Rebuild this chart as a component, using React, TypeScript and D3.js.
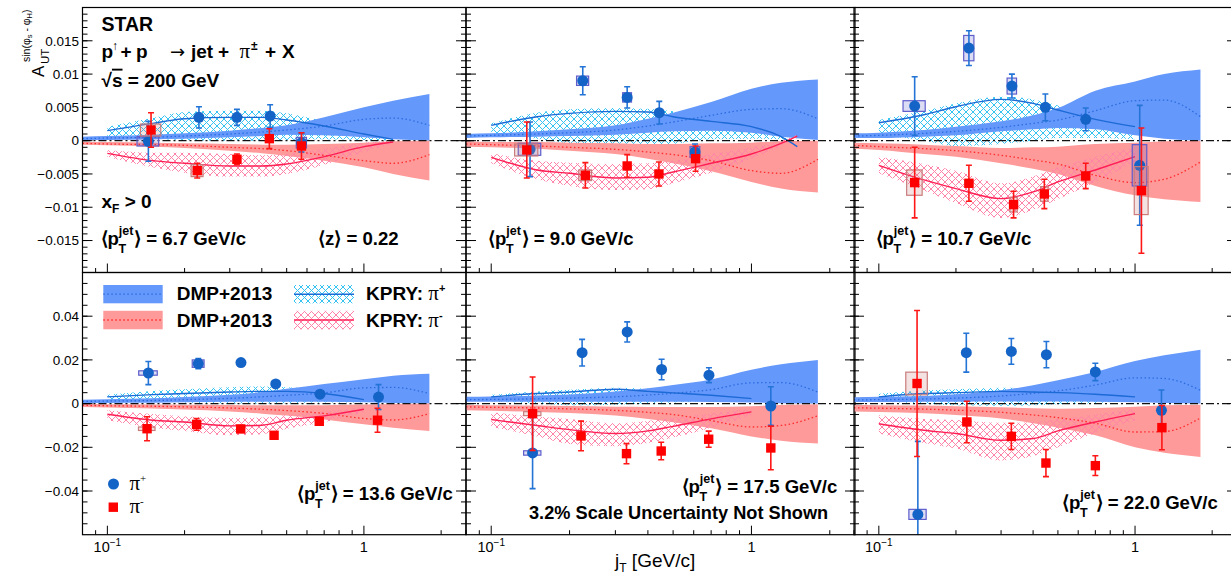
import React from 'react';
import * as d3 from 'd3';

// ---------------- DATA ----------------
const ptJet = ['6.7', '9.0', '10.7', '13.6', '17.5', '22.0'];

// DMP+2013 bands (common jT grid)
const dmpX = [0.08, 0.1, 0.15, 0.2, 0.3, 0.4, 0.5, 0.7, 1.0, 1.3, 1.8];
const dmpPlusHi = [
  [0.0006, 0.0007, 0.0009, 0.0011, 0.0015, 0.0019, 0.0023, 0.0035, 0.0050, 0.0060, 0.0070],
  [0.0010, 0.0011, 0.0014, 0.0017, 0.0023, 0.0033, 0.0042, 0.0058, 0.0078, 0.0087, 0.0092],
  [0.0011, 0.0012, 0.0016, 0.0021, 0.0029, 0.0038, 0.0049, 0.0075, 0.0089, 0.0100, 0.0107],
  [0.0018, 0.0020, 0.0024, 0.0030, 0.0040, 0.0053, 0.0068, 0.0090, 0.0112, 0.0128, 0.0137],
  [0.0031, 0.0032, 0.0037, 0.0042, 0.0055, 0.0070, 0.0085, 0.0110, 0.0155, 0.0180, 0.0200],
  [0.0029, 0.0031, 0.0035, 0.0043, 0.0061, 0.0084, 0.0107, 0.0145, 0.0195, 0.0221, 0.0247],
];
const dmpPlusLo = [
  [0.0001, 0.0001, 0.0002, 0.0003, 0.0005, 0.0007, 0.0009, 0.0008, 0.0005, 0.0002, 0.0],
  [0.0004, 0.0005, 0.0006, 0.0007, 0.0009, 0.0012, 0.0014, 0.0015, 0.0012, 0.0006, 0.0001],
  [0.0004, 0.0004, 0.0006, 0.0008, 0.0014, 0.0017, 0.0019, 0.0017, 0.0008, 0.0003, 0.0],
  [0.0002, 0.0003, 0.0004, 0.0006, 0.0008, 0.0008, 0.0008, 0.0008, 0.0006, 0.0003, 0.0],
  [0.0008, 0.0008, 0.0008, 0.0008, 0.0008, 0.0008, 0.0008, 0.0007, 0.0005, 0.0002, 0.0],
  [0.0007, 0.0007, 0.0008, 0.0009, 0.0010, 0.0010, 0.0010, 0.0009, 0.0006, 0.0003, 0.0],
];
const dmpPlusMid = [
  [0.0003, 0.0004, 0.0005, 0.0007, 0.0010, 0.0013, 0.0016, 0.0022, 0.0032, 0.0034, 0.0023],
  [0.0007, 0.0008, 0.0010, 0.0012, 0.0016, 0.0022, 0.0028, 0.0038, 0.0047, 0.0048, 0.0033],
  [0.0007, 0.0008, 0.0011, 0.0014, 0.0020, 0.0026, 0.0031, 0.0045, 0.0060, 0.0061, 0.0036],
  [0.0010, 0.0012, 0.0014, 0.0018, 0.0024, 0.0031, 0.0038, 0.0049, 0.0072, 0.0074, 0.0046],
  [0.0018, 0.0019, 0.0022, 0.0025, 0.0031, 0.0039, 0.0047, 0.0064, 0.0095, 0.0096, 0.0053],
  [0.0017, 0.0018, 0.0021, 0.0025, 0.0035, 0.0047, 0.0058, 0.0085, 0.0118, 0.0115, 0.0061],
];
const dmpMinusHi = [
  [-0.0002, -0.0002, -0.0003, -0.0004, -0.0005, -0.0006, -0.0006, -0.0005, -0.0003, -0.0001, 0],
  [-0.0001, -0.0002, -0.0002, -0.0003, -0.0004, -0.0005, -0.0005, -0.0004, -0.0003, -0.0001, 0],
  [-0.0003, -0.0004, -0.0006, -0.0008, -0.0011, -0.0010, -0.0009, -0.0005, -0.0003, -0.0001, 0],
  [-0.0002, -0.0003, -0.0004, -0.0005, -0.0006, -0.0008, -0.0008, -0.0007, -0.0004, -0.0002, 0],
  [-0.0006, -0.0007, -0.0009, -0.0011, -0.0014, -0.0015, -0.0016, -0.0015, -0.0012, -0.0006, -0.0003],
  [-0.0006, -0.0007, -0.0009, -0.0012, -0.0017, -0.0021, -0.0023, -0.0020, -0.0014, -0.0008, -0.0005],
];
const dmpMinusLo = [
  [-0.0006, -0.0007, -0.0009, -0.0011, -0.0015, -0.0019, -0.0023, -0.0030, -0.0040, -0.0050, -0.0060],
  [-0.0009, -0.0010, -0.0012, -0.0015, -0.0020, -0.0027, -0.0034, -0.0046, -0.0062, -0.0072, -0.0078],
  [-0.0012, -0.0014, -0.0020, -0.0024, -0.0034, -0.0042, -0.0050, -0.0068, -0.0082, -0.0088, -0.0092],
  [-0.0015, -0.0018, -0.0022, -0.0027, -0.0036, -0.0046, -0.0055, -0.0073, -0.0095, -0.0110, -0.0125],
  [-0.0031, -0.0033, -0.0038, -0.0043, -0.0055, -0.0070, -0.0085, -0.0113, -0.0150, -0.0170, -0.0183],
  [-0.0036, -0.0038, -0.0044, -0.0052, -0.0068, -0.0090, -0.0110, -0.0145, -0.0200, -0.0225, -0.0244],
];
const dmpMinusMid = [
  [-0.0004, -0.0005, -0.0006, -0.0007, -0.0010, -0.0012, -0.0015, -0.0022, -0.0030, -0.0034, -0.0021],
  [-0.0005, -0.0006, -0.0008, -0.0010, -0.0013, -0.0017, -0.0021, -0.0030, -0.0045, -0.0049, -0.0028],
  [-0.0007, -0.0009, -0.0012, -0.0015, -0.0022, -0.0029, -0.0035, -0.0052, -0.0063, -0.0058, -0.0032],
  [-0.0008, -0.0010, -0.0012, -0.0015, -0.0020, -0.0026, -0.0032, -0.0045, -0.0068, -0.0075, -0.0046],
  [-0.0015, -0.0017, -0.0020, -0.0024, -0.0031, -0.0040, -0.0050, -0.0078, -0.0107, -0.0100, -0.0056],
  [-0.0019, -0.0021, -0.0025, -0.0030, -0.0040, -0.0052, -0.0064, -0.0090, -0.0130, -0.0128, -0.0066],
];

// KPRY bands
const kpryX = [
  [0.1, 0.15, 0.2, 0.3, 0.4, 0.5, 0.7, 1.0, 1.3],
  [0.1, 0.15, 0.2, 0.3, 0.4, 0.5, 0.7, 1.0, 1.3, 1.5],
  [0.1, 0.15, 0.2, 0.3, 0.4, 0.5, 0.7, 1.0],
  [0.1, 0.15, 0.2, 0.3, 0.4, 0.5, 0.7, 1.0],
  [0.1, 0.15, 0.2, 0.3, 0.4, 0.5, 0.7, 1.0],
  [0.1, 0.15, 0.2, 0.3, 0.4, 0.5, 0.7, 1.0],
];
const kpryPlusMid = [
  [0.0015, 0.0026, 0.0033, 0.0035, 0.0035, 0.0031, 0.0022, 0.0010, 0.0002],
  [0.0023, 0.0036, 0.0041, 0.0044, 0.0043, 0.0036, 0.0029, 0.0021, 0.0006, -0.0009],
  [0.0027, 0.0039, 0.0051, 0.0062, 0.0056, 0.0046, 0.0032, 0.0021],
  [0.0031, 0.0041, 0.0046, 0.0053, 0.0056, 0.0056, 0.0046, 0.0018],
  [0.0031, 0.0046, 0.0053, 0.0066, 0.0056, 0.0049, 0.0038, 0.0023],
  [0.0031, 0.0046, 0.0050, 0.0056, 0.0053, 0.0050, 0.0043, 0.0031],
];
const kpryPlusHi = [
  [0.0021, 0.0034, 0.0043, 0.0045, 0.0045, 0.0041, 0.0029, 0.0015, 0.0005],
  [0.0026, 0.0042, 0.0047, 0.0049, 0.0048, 0.0044, 0.0035, 0.0024, 0.0008, -0.0006],
  [0.0031, 0.0045, 0.0056, 0.0066, 0.0062, 0.0053, 0.0038, 0.0024],
  [0.0040, 0.0058, 0.0066, 0.0075, 0.0078, 0.0075, 0.0063, 0.0028],
  [0.0040, 0.0055, 0.0063, 0.0073, 0.0068, 0.0060, 0.0048, 0.0030],
  [0.0045, 0.0060, 0.0066, 0.0072, 0.0070, 0.0066, 0.0058, 0.0040],
];
const kpryPlusLo = [
  [0.0005, 0.0003, 0.0001, 0.0000, 0.0000, 0.0001, 0.0002, 0.0001, 0.0],
  [0.0010, 0.0003, -0.0004, -0.0008, -0.0008, -0.0005, 0.0002, 0.0003, 0.0002, -0.0010],
  [0.0008, 0.0000, -0.0008, -0.0005, 0.0000, 0.0004, 0.0004, 0.0002],
  [0.0012, 0.0010, 0.0005, 0.0000, 0.0000, 0.0002, 0.0005, 0.0005],
  [0.0010, 0.0000, -0.0008, -0.0005, 0.0000, 0.0005, 0.0010, 0.0010],
  [0.0008, 0.0000, -0.0008, -0.0010, -0.0008, -0.0003, 0.0002, 0.0015],
];
const kpryMinusMid = [
  [-0.0019, -0.0030, -0.0034, -0.0038, -0.0038, -0.0035, -0.0024, -0.0009, -0.0002],
  [-0.0025, -0.0044, -0.0049, -0.0056, -0.0055, -0.0047, -0.0034, -0.0020, -0.0004, 0.0007],
  [-0.0037, -0.0059, -0.0072, -0.0087, -0.0077, -0.0062, -0.0044, -0.0024],
  [-0.0049, -0.0076, -0.0084, -0.0102, -0.0099, -0.0076, -0.0056, -0.0026],
  [-0.0073, -0.0100, -0.0119, -0.0137, -0.0125, -0.0104, -0.0070, -0.0038],
  [-0.0092, -0.0122, -0.0137, -0.0168, -0.0160, -0.0125, -0.0084, -0.0046],
];
const kpryMinusHi = [
  [-0.0014, -0.0018, -0.0018, -0.0020, -0.0022, -0.0020, -0.0012, -0.0003, 0.0],
  [-0.0019, -0.0030, -0.0033, -0.0035, -0.0034, -0.0030, -0.0020, -0.0010, 0.0000, 0.0009],
  [-0.0024, -0.0035, -0.0045, -0.0064, -0.0054, -0.0040, -0.0024, -0.0010],
  [-0.0030, -0.0048, -0.0058, -0.0066, -0.0064, -0.0052, -0.0036, -0.0015],
  [-0.0040, -0.0060, -0.0070, -0.0090, -0.0080, -0.0065, -0.0045, -0.0022],
  [-0.0053, -0.0070, -0.0075, -0.0088, -0.0085, -0.0072, -0.0050, -0.0023],
];
const kpryMinusLo = [
  [-0.0024, -0.0040, -0.0048, -0.0054, -0.0054, -0.0050, -0.0036, -0.0017, -0.0004],
  [-0.0034, -0.0058, -0.0068, -0.0074, -0.0073, -0.0064, -0.0048, -0.0027, -0.0008, 0.0004],
  [-0.0049, -0.0075, -0.0094, -0.0116, -0.0104, -0.0088, -0.0062, -0.0032],
  [-0.0076, -0.0110, -0.0125, -0.0145, -0.0140, -0.0115, -0.0085, -0.0040],
  [-0.0107, -0.0150, -0.0185, -0.0195, -0.0180, -0.0155, -0.0110, -0.0055],
  [-0.0137, -0.0180, -0.0205, -0.0260, -0.0240, -0.0200, -0.0135, -0.0076],
];

// Measured asymmetries
const piPlusX = [
  [0.1445, 0.2275, 0.320, 0.431, 0.571],
  [0.141, 0.2248, 0.333, 0.4424, 0.607],
  [0.138, 0.2247, 0.3307, 0.4467, 0.642, 1.043],
  [0.1445, 0.2262, 0.3317, 0.4532, 0.6745, 1.14],
  [0.1442, 0.2235, 0.333, 0.4516, 0.6866, 1.187],
  [0.142, 0.2195, 0.329, 0.4508, 0.700, 1.268],
];
const piPlusY = [
  [-0.0001, 0.0035, 0.0035, 0.0037, -0.0003],
  [-0.0013, 0.0090, 0.0065, 0.0042, -0.0017],
  [0.0052, 0.0139, 0.0082, 0.0050, 0.0032, -0.0037],
  [0.0140, 0.0183, 0.0188, 0.0090, 0.0043, 0.0030],
  [-0.0226, 0.0233, 0.0328, 0.0156, 0.0130, -0.0011],
  [-0.0507, 0.0233, 0.0239, 0.0224, 0.0145, -0.0031],
];
const piPlusStat = [
  [0.0030, 0.0016, 0.0012, 0.0017, 0.0014],
  [0.0041, 0.0021, 0.0016, 0.0017, 0.0012],
  [0.0044, 0.0026, 0.0018, 0.0020, 0.0017, 0.0090],
  [0.0053, 0.0023, 0.0015, 0.0012, 0.0012, 0.0057],
  [0.0163, 0.0061, 0.0046, 0.0047, 0.0034, 0.0088],
  [0.0334, 0.0089, 0.0059, 0.0060, 0.0040, 0.0093],
];
const piPlusSys = [
  [0.0007, 0.0003, 0.0003, 0.0003, 0.0008],
  [0.0009, 0.0007, 0.0007, 0.0003, 0.0008],
  [0.0008, 0.0019, 0.0012, 0.0003, 0.0003, 0.0031],
  [0.0010, 0.0017, 0.0008, 0.0008, 0.0006, 0.0006],
  [0.0010, 0.0010, 0.0008, 0.0010, 0.0008, 0.0006],
  [0.0023, 0.0010, 0.0010, 0.0010, 0.0010, 0.0008],
];
const piPlusSysX = [
  [0.014, 0.007, 0.009, 0.012, 0.026],
  [0.014, 0.012, 0.013, 0.012, 0.026],
  [0.0137, 0.0103, 0.014, 0.012, 0.017, 0.068],
  [0.012, 0.012, 0.009, 0.012, 0.018, 0.03],
  [0.011, 0.007, 0.009, 0.012, 0.018, 0.03],
  [0.011, 0.007, 0.009, 0.012, 0.018, 0.03],
];
const piMinusX = [
  [0.148, 0.224, 0.320, 0.428, 0.571],
  [0.137, 0.230, 0.333, 0.441, 0.610],
  [0.138, 0.2247, 0.3357, 0.4426, 0.642, 1.059],
  [0.1428, 0.2228, 0.3310, 0.4465, 0.6698, 1.13],
  [0.1442, 0.2214, 0.331, 0.450, 0.685, 1.187],
  [0.141, 0.2206, 0.329, 0.449, 0.700, 1.273],
];
const piMinusY = [
  [0.0016, -0.0045, -0.0028, 0.0003, -0.0008],
  [-0.0014, -0.0052, -0.0038, -0.0050, -0.0027],
  [-0.0063, -0.0064, -0.0096, -0.0080, -0.0053, -0.0075],
  [-0.0115, -0.0095, -0.0116, -0.0145, -0.0081, -0.0076],
  [-0.0046, -0.0148, -0.0229, -0.0217, -0.0163, -0.0203],
  [0.0092, -0.0084, -0.0150, -0.0272, -0.0284, -0.0110],
];
const piMinusStat = [
  [0.0026, 0.0011, 0.0008, 0.0015, 0.0020],
  [0.0042, 0.0019, 0.0017, 0.0018, 0.0019],
  [0.0053, 0.0027, 0.0020, 0.0022, 0.0019, 0.0094],
  [0.0055, 0.0027, 0.0015, 0.0015, 0.0012, 0.0055],
  [0.0168, 0.0068, 0.0046, 0.0040, 0.0037, 0.0100],
  [0.0334, 0.0095, 0.0060, 0.0062, 0.0045, 0.0101],
];
const piMinusSys = [
  [0.0009, 0.0009, 0.0003, 0.0003, 0.0005],
  [0.0009, 0.0008, 0.0003, 0.0003, 0.0003],
  [0.0019, 0.0004, 0.0011, 0.0011, 0.0003, 0.0036],
  [0.0008, 0.0015, 0.0010, 0.0015, 0.0008, 0.0008],
  [0.0009, 0.0010, 0.0008, 0.0008, 0.0008, 0.0008],
  [0.0052, 0.0010, 0.0010, 0.0010, 0.0010, 0.0010],
];
const piMinusSysX = [
  [0.0135, 0.012, 0.008, 0.011, 0.015],
  [0.014, 0.013, 0.009, 0.012, 0.016],
  [0.0096, 0.008, 0.011, 0.015, 0.017, 0.066],
  [0.0106, 0.008, 0.009, 0.012, 0.018, 0.03],
  [0.011, 0.008, 0.009, 0.012, 0.018, 0.03],
  [0.0136, 0.008, 0.009, 0.012, 0.018, 0.03],
];

// axes
const xDomain = [0.08, 2.5];
const xMajorTicks = [0.1, 1];
const xMinorTicks = [0.08, 0.09, 0.2, 0.3, 0.4, 0.5, 0.6, 0.7, 0.8, 0.9, 2];
const topYDomain = [-0.0198, 0.02];
const botYDomain = [-0.06, 0.06];
const topYMajor = [-0.015, -0.01, -0.005, 0, 0.005, 0.01, 0.015];
const botYMajor = [-0.04, -0.02, 0, 0.02, 0.04];

// ---------------- STYLE / LAYOUT ----------------
const FONT = "'Liberation Sans', Arial, Helvetica, sans-serif";
const SERIF = "'Liberation Serif', 'Times New Roman', serif";
const C = {
  bandB: '#6598fb',
  bandR: '#ff9a9a',
  dotB: '#2a6ce0',
  dotR: '#ff2a2a',
  hatchB: '#35c4f2',
  hatchR: '#ff84a8',
  lineB: '#1c6ad6',
  lineR: '#ff1f55',
  mkB: '#1463c6',
  errB: '#2374d6',
  mkR: '#ff0000',
  errR: '#ff1616',
  boxB: '#5d5dcc',
  boxR: '#c97c7c',
};
const LAYOUT = [
  { x0: 82.5, x1: 466, y0: 7.5, y1: 272.5 },
  { x0: 466, x1: 855, y0: 7.5, y1: 272.5 },
  { x0: 854, x1: 1237, y0: 7.5, y1: 272.5 },
  { x0: 82.5, x1: 466, y0: 272.5, y1: 534.7 },
  { x0: 466, x1: 855, y0: 272.5, y1: 534.7 },
  { x0: 854, x1: 1237, y0: 272.5, y1: 534.7 },
];

const fmtY = (v: number) => (v === 0 ? '0' : (v < 0 ? '\u2212' : '') + String(+Math.abs(v).toFixed(4)));

function Points({ x, y, xs, ys, es, ss, sx, blue }: any) {
  const mk = blue ? C.mkB : C.mkR;
  const er = blue ? C.errB : C.errR;
  return (
    <g>
      {xs.map((xv: number, k: number) => (
        <rect key={'b' + k}
          x={x(xv - sx[k])} width={x(xv + sx[k]) - x(xv - sx[k])}
          y={y(ys[k] + ss[k])} height={y(ys[k] - ss[k]) - y(ys[k] + ss[k])}
          fill={blue ? 'rgba(95,95,210,0.22)' : 'rgba(205,125,125,0.22)'}
          stroke={blue ? C.boxB : C.boxR} strokeWidth={1.2} />
      ))}
      {xs.map((xv: number, k: number) => {
        const cx = x(xv);
        const yt = y(ys[k] + es[k]);
        const yb = y(ys[k] - es[k]);
        return (
          <g key={'e' + k} stroke={er} strokeWidth={1.6}>
            <line x1={cx} x2={cx} y1={yt} y2={yb} />
            <line x1={cx - 3} x2={cx + 3} y1={yt} y2={yt} />
            <line x1={cx - 3} x2={cx + 3} y1={yb} y2={yb} />
          </g>
        );
      })}
      {xs.map((xv: number, k: number) =>
        blue ? (
          <circle key={'m' + k} cx={x(xv)} cy={y(ys[k])} r={5.5} fill={mk} />
        ) : (
          <rect key={'m' + k} x={x(xv) - 4.7} y={y(ys[k]) - 4.7} width={9.4} height={9.4} fill={mk} />
        )
      )}
    </g>
  );
}

function Panel({ i }: { i: number }) {
  const L = LAYOUT[i];
  const row = i < 3 ? 0 : 1;
  const x = d3.scaleLog().domain(xDomain).range([L.x0, L.x1]);
  const y = d3.scaleLinear().domain(row ? botYDomain : topYDomain).range([L.y1, L.y0]);
  const area = (xs: number[], lo: number[], hi: number[]) =>
    d3.area<number>()
      .x((d) => x(d))
      .y0((_, k) => y(lo[k]))
      .y1((_, k) => y(hi[k]))
      .curve(d3.curveMonotoneX)(xs) || '';
  const line = (xs: number[], ys: number[]) =>
    d3.line<number>()
      .x((d) => x(d))
      .y((_, k) => y(ys[k]))
      .curve(d3.curveMonotoneX)(xs) || '';

  const yMinor = row ? d3.range(-11, 12).map((k) => k * 0.005) : d3.range(-19, 20).map((k) => k * 0.001);
  const yMajor = row ? botYMajor : topYMajor;
  const kx = kpryX[i];

  return (
    <g>
      <g clipPath={`url(#clip${i})`}>
        <path d={area(kx, kpryPlusLo[i], kpryPlusHi[i])} fill="url(#hatchB)" />
        <path d={area(dmpX, dmpPlusLo[i], dmpPlusHi[i])} fill={C.bandB} />
        <path d={area(dmpX, dmpMinusLo[i], dmpMinusHi[i])} fill={C.bandR} />
        <path d={area(kx, kpryMinusLo[i], kpryMinusHi[i])} fill="url(#hatchR)" />
        <path d={line(dmpX, dmpPlusMid[i])} fill="none" stroke={C.dotB} strokeWidth={1.3} strokeDasharray="1.5,2.5" />
        <path d={line(dmpX, dmpMinusMid[i])} fill="none" stroke={C.dotR} strokeWidth={1.3} strokeDasharray="1.5,2.5" />
        <path d={line(kx, kpryPlusMid[i])} fill="none" stroke={C.lineB} strokeWidth={1.4} />
        <path d={line(kx, kpryMinusMid[i])} fill="none" stroke={C.lineR} strokeWidth={1.4} />
        <line x1={L.x0} x2={L.x1} y1={y(0)} y2={y(0)} stroke="#111" strokeWidth={1.2} strokeDasharray="8,3,2,3" />
        <Points x={x} y={y} xs={piPlusX[i]} ys={piPlusY[i]} es={piPlusStat[i]} ss={piPlusSys[i]} sx={piPlusSysX[i]} blue />
        <Points x={x} y={y} xs={piMinusX[i]} ys={piMinusY[i]} es={piMinusStat[i]} ss={piMinusSys[i]} sx={piMinusSysX[i]} />
      </g>
      <rect x={L.x0} y={L.y0} width={L.x1 - L.x0} height={L.y1 - L.y0} fill="none" stroke="#000" strokeWidth={1.2} />
      <g stroke="#000" strokeWidth={1}>
        {yMinor.map((v, k) => (
          <g key={'ym' + k}>
            <line x1={L.x0} x2={L.x0 + 5} y1={y(v)} y2={y(v)} />
            <line x1={L.x1} x2={L.x1 - 5} y1={y(v)} y2={y(v)} />
          </g>
        ))}
        {yMajor.map((v, k) => (
          <g key={'yM' + k}>
            <line x1={L.x0} x2={L.x0 + 10} y1={y(v)} y2={y(v)} />
            <line x1={L.x1} x2={L.x1 - 10} y1={y(v)} y2={y(v)} />
          </g>
        ))}
        {xMinorTicks.map((v, k) => (
          <line key={'xm' + k} x1={x(v)} x2={x(v)} y1={L.y1} y2={L.y1 - 4.5} />
        ))}
        {xMajorTicks.map((v, k) => (
          <line key={'xM' + k} x1={x(v)} x2={x(v)} y1={L.y1} y2={L.y1 - 9} />
        ))}
      </g>
      {(i === 0 || i === 3) &&
        yMajor.map((v, k) => (
          <text key={'yl' + k} x={79} y={y(v) + 4.8} fontSize={13.5} textAnchor="end" fill="#000">
            {fmtY(v)}
          </text>
        ))}
      {row === 1 && (
        <g fontSize={14.5} fill="#000">
          <text x={x(0.1)} y={551.5} textAnchor="middle">
            10<tspan dy={-6} fontSize={10}>{'\u22121'}</tspan>
          </text>
          <text x={x(1)} y={551.5} textAnchor="middle">1</text>
        </g>
      )}
    </g>
  );
}

function PtLabel({ x, y, val }: { x: number; y: number; val: string }) {
  return (
    <text x={x} y={y} fontSize={18.6} fontWeight="bold" fill="#000">
      <tspan>{'\u27E8p'}</tspan>
      <tspan dy={-10} fontSize={12.5}>jet</tspan>
      <tspan dx={-15} dy={18} fontSize={12.5}>T</tspan>
      <tspan dx={8} dy={-8}>{'\u27E9 = ' + val + ' GeV/c'}</tspan>
    </text>
  );
}

export default function App() {
  const ptPos = [
    [100.5, 245], [488, 245], [875.5, 245], [297, 500], [681.5, 492.5], [1062, 508.5],
  ];
  return (
    <svg width={1231} height={573} style={{ position: 'absolute', left: 0, top: 0, background: '#fff' }} fontFamily={FONT}>
      <defs>
        <pattern id="hatchB" width={7} height={7} patternUnits="userSpaceOnUse">
          <path d="M0,0L7,7M7,0L0,7" stroke={C.hatchB} strokeWidth={1} />
        </pattern>
        <pattern id="hatchR" width={7} height={7} patternUnits="userSpaceOnUse">
          <path d="M0,0L7,7M7,0L0,7" stroke={C.hatchR} strokeWidth={1} />
        </pattern>
        {LAYOUT.map((L, i) => (
          <clipPath id={'clip' + i} key={i}>
            <rect x={L.x0} y={L.y0} width={L.x1 - L.x0} height={L.y1 - L.y0} />
          </clipPath>
        ))}
      </defs>
      <rect x={0} y={0} width={1231} height={573} fill="#fff" />
      {LAYOUT.map((_, i) => <Panel key={i} i={i} />)}

      {/* annotations */}
      <g fontWeight="bold" fontSize={19} fill="#000" style={{ whiteSpace: 'pre' }}>
        <text x={101.5} y={30.5} fontSize={19.5}>STAR</text>
        <text y={58.3}>
          <tspan x={101.5}>p</tspan>
          <tspan x={112} dy={-8} fontSize={12}>{'\u2191'}</tspan>
          <tspan x={120.5} dy={8}>+</tspan>
          <tspan x={136}>p</tspan>
          <tspan x={170} fontFamily="'DejaVu Sans', sans-serif" fontWeight="normal" fontSize={18}>{'\u2192'}</tspan>
          <tspan x={191}>jet</tspan>
          <tspan x={218}>+</tspan>
          <tspan x={239.5} fontFamily={SERIF} fontWeight="normal" fontSize={21}>{'\u03C0'}</tspan>
          <tspan x={251} dy={-8} fontSize={12}>{'\u00B1'}</tspan>
          <tspan x={265} dy={8}>+</tspan>
          <tspan x={282}>X</tspan>
        </text>
        <text x={101.5} y={86.7}>
          {'\u221A'}<tspan style={{ textDecoration: 'overline' }}>s</tspan>{' = 200 GeV'}
        </text>
        <text x={101.5} y={208.3}>
          x<tspan dy={5} fontSize={12}>F</tspan><tspan dy={-5}>{' > 0'}</tspan>
        </text>
        <text x={318} y={245} fontSize={18.6}>{'\u27E8z\u27E9 = 0.22'}</text>
        <text x={529} y={519} fontSize={18.2}>3.2% Scale Uncertainty Not Shown</text>
      </g>
      {ptPos.map((p, i) => <PtLabel key={i} x={p[0]} y={p[1]} val={ptJet[i]} />)}

      {/* legend */}
      <g>
        <rect x={103.3} y={285} width={59.4} height={18.3} fill={C.bandB} />
        <line x1={103.3} x2={162.7} y1={294.2} y2={294.2} stroke={C.dotB} strokeWidth={1.3} strokeDasharray="1.5,2.5" />
        <rect x={103.3} y={310.8} width={59.4} height={18.5} fill={C.bandR} />
        <line x1={103.3} x2={162.7} y1={320} y2={320} stroke={C.dotR} strokeWidth={1.3} strokeDasharray="1.5,2.5" />
        <rect x={294} y={285} width={60} height={18.3} fill="url(#hatchB)" />
        <line x1={294} x2={354} y1={294.2} y2={294.2} stroke={C.lineB} strokeWidth={1.4} />
        <rect x={294} y={310.8} width={60} height={18.5} fill="url(#hatchR)" />
        <line x1={294} x2={354} y1={320} y2={320} stroke={C.lineR} strokeWidth={1.4} />
        <g fontWeight="bold" fontSize={19} fill="#000" style={{ whiteSpace: 'pre' }}>
          <text x={176.7} y={300.3}>DMP+2013</text>
          <text x={176.7} y={326.6}>DMP+2013</text>
          <text x={366} y={300.3}>
            {'KPRY:  '}<tspan fontFamily={SERIF} fontWeight="normal" fontSize={21}>{'\u03C0'}</tspan>
            <tspan dy={-8} fontSize={11}>+</tspan>
          </text>
          <text x={366} y={326.6}>
            {'KPRY:  '}<tspan fontFamily={SERIF} fontWeight="normal" fontSize={21}>{'\u03C0'}</tspan>
            <tspan dy={-8} fontSize={11}>-</tspan>
          </text>
        </g>
        <circle cx={113.5} cy={484} r={5.5} fill={C.mkB} />
        <rect x={108.6} y={502.5} width={9.4} height={9.4} fill={C.mkR} />
        <g fontSize={21} fill="#000" fontFamily={SERIF}>
          <text x={129.5} y={490}>{'\u03C0'}<tspan dy={-8} fontSize={11}>+</tspan></text>
          <text x={129.5} y={513}>{'\u03C0'}<tspan dy={-8} fontSize={11}>-</tspan></text>
        </g>
      </g>

      {/* axis titles */}
      <g transform="translate(44,77) rotate(-90)" fill="#000">
        <text x={0} y={0} fontSize={17}>A</text>
        <text x={13} y={5} fontSize={11.5}>UT</text>
        <text x={15} y={-14} fontSize={10.5}>
          sin({'\u03C6'}<tspan dy={2} fontSize={7.5}>s</tspan><tspan dy={-2}>{' - \u03C6'}</tspan>
          <tspan dy={2} fontSize={7.5}>H</tspan><tspan dy={-2}>)</tspan>
        </text>
      </g>
      <text x={615} y={566.5} fontSize={19} fill="#000">
        j<tspan dy={5} fontSize={12}>T</tspan><tspan dy={-5}>{' [GeV/c]'}</tspan>
      </text>
    </svg>
  );
}
